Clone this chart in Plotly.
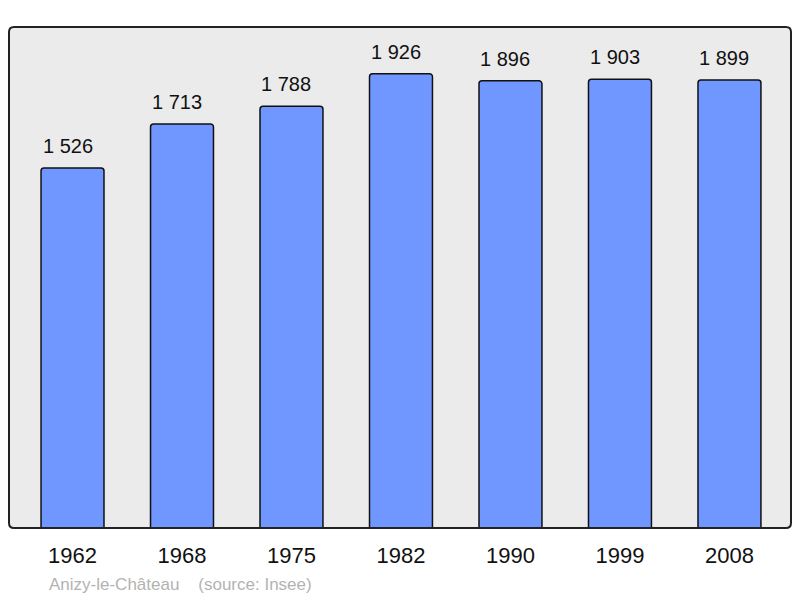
import plotly.graph_objects as go

years = ["1962", "1968", "1975", "1982", "1990", "1999", "2008"]
population = [1526, 1713, 1788, 1926, 1896, 1903, 1899]
value_labels = ["1 526", "1 713", "1 788", "1 926", "1 896", "1 903", "1 899"]
positions = list(range(len(years)))

W, H = 800, 598
L, R, T, B = 9, 9, 27, 70
pw, ph = W - L - R, H - T - B

fig = go.Figure()
fig.add_trace(go.Bar(
    x=positions, y=population, width=0.575,
    marker=dict(color="#7096ff", line=dict(color="#111111", width=1.5), cornerradius=3),
    hoverinfo="skip",
))

for xi, yi, lab in zip(positions, population, value_labels):
    fig.add_annotation(x=xi, y=yi, text=lab, showarrow=False, yanchor="bottom",
                       yshift=9, xshift=-5, font=dict(size=20, color="#111111"))

rx, ry = 5 / pw, 5 / ph
path = (f"M {rx},0 L {1-rx},0 Q 1,0 1,{ry} L 1,{1-ry} Q 1,1 {1-rx},1 "
        f"L {rx},1 Q 0,1 0,{1-ry} L 0,{ry} Q 0,0 {rx},0 Z")
fig.add_shape(type="path", path=path, xref="paper", yref="paper",
              line=dict(color="#222222", width=2), layer="above")

fig.add_annotation(xref="paper", yref="paper", x=(47 - L) / pw, y=-(584 - (T + ph)) / ph,
                   xanchor="left", yanchor="middle", showarrow=False,
                   text="Anizy-le-Château&nbsp;&nbsp;&nbsp;&nbsp;(source: Insee)",
                   font=dict(size=17, color="#b3b3b3"))

fig.update_layout(
    width=W, height=H,
    margin=dict(l=L, r=R, t=T, b=B),
    paper_bgcolor="white", plot_bgcolor="#ebebeb",
    font=dict(family="Liberation Sans, Arial, sans-serif", color="#111111"),
    showlegend=False,
    xaxis=dict(range=[-0.58, 6.562], tickvals=positions, ticktext=years,
               showgrid=False, zeroline=False, ticks="outside", ticklen=8,
               tickcolor="rgba(0,0,0,0)", tickfont=dict(size=22, color="#111111"),
               fixedrange=True),
    yaxis=dict(range=[0, 2124], showgrid=False, zeroline=False,
               showticklabels=False, fixedrange=True),
)

fig.write_html("out.html", config={"displayModeBar": False},
               post_script="document.body.style.margin='0';document.body.style.overflow='hidden';")
